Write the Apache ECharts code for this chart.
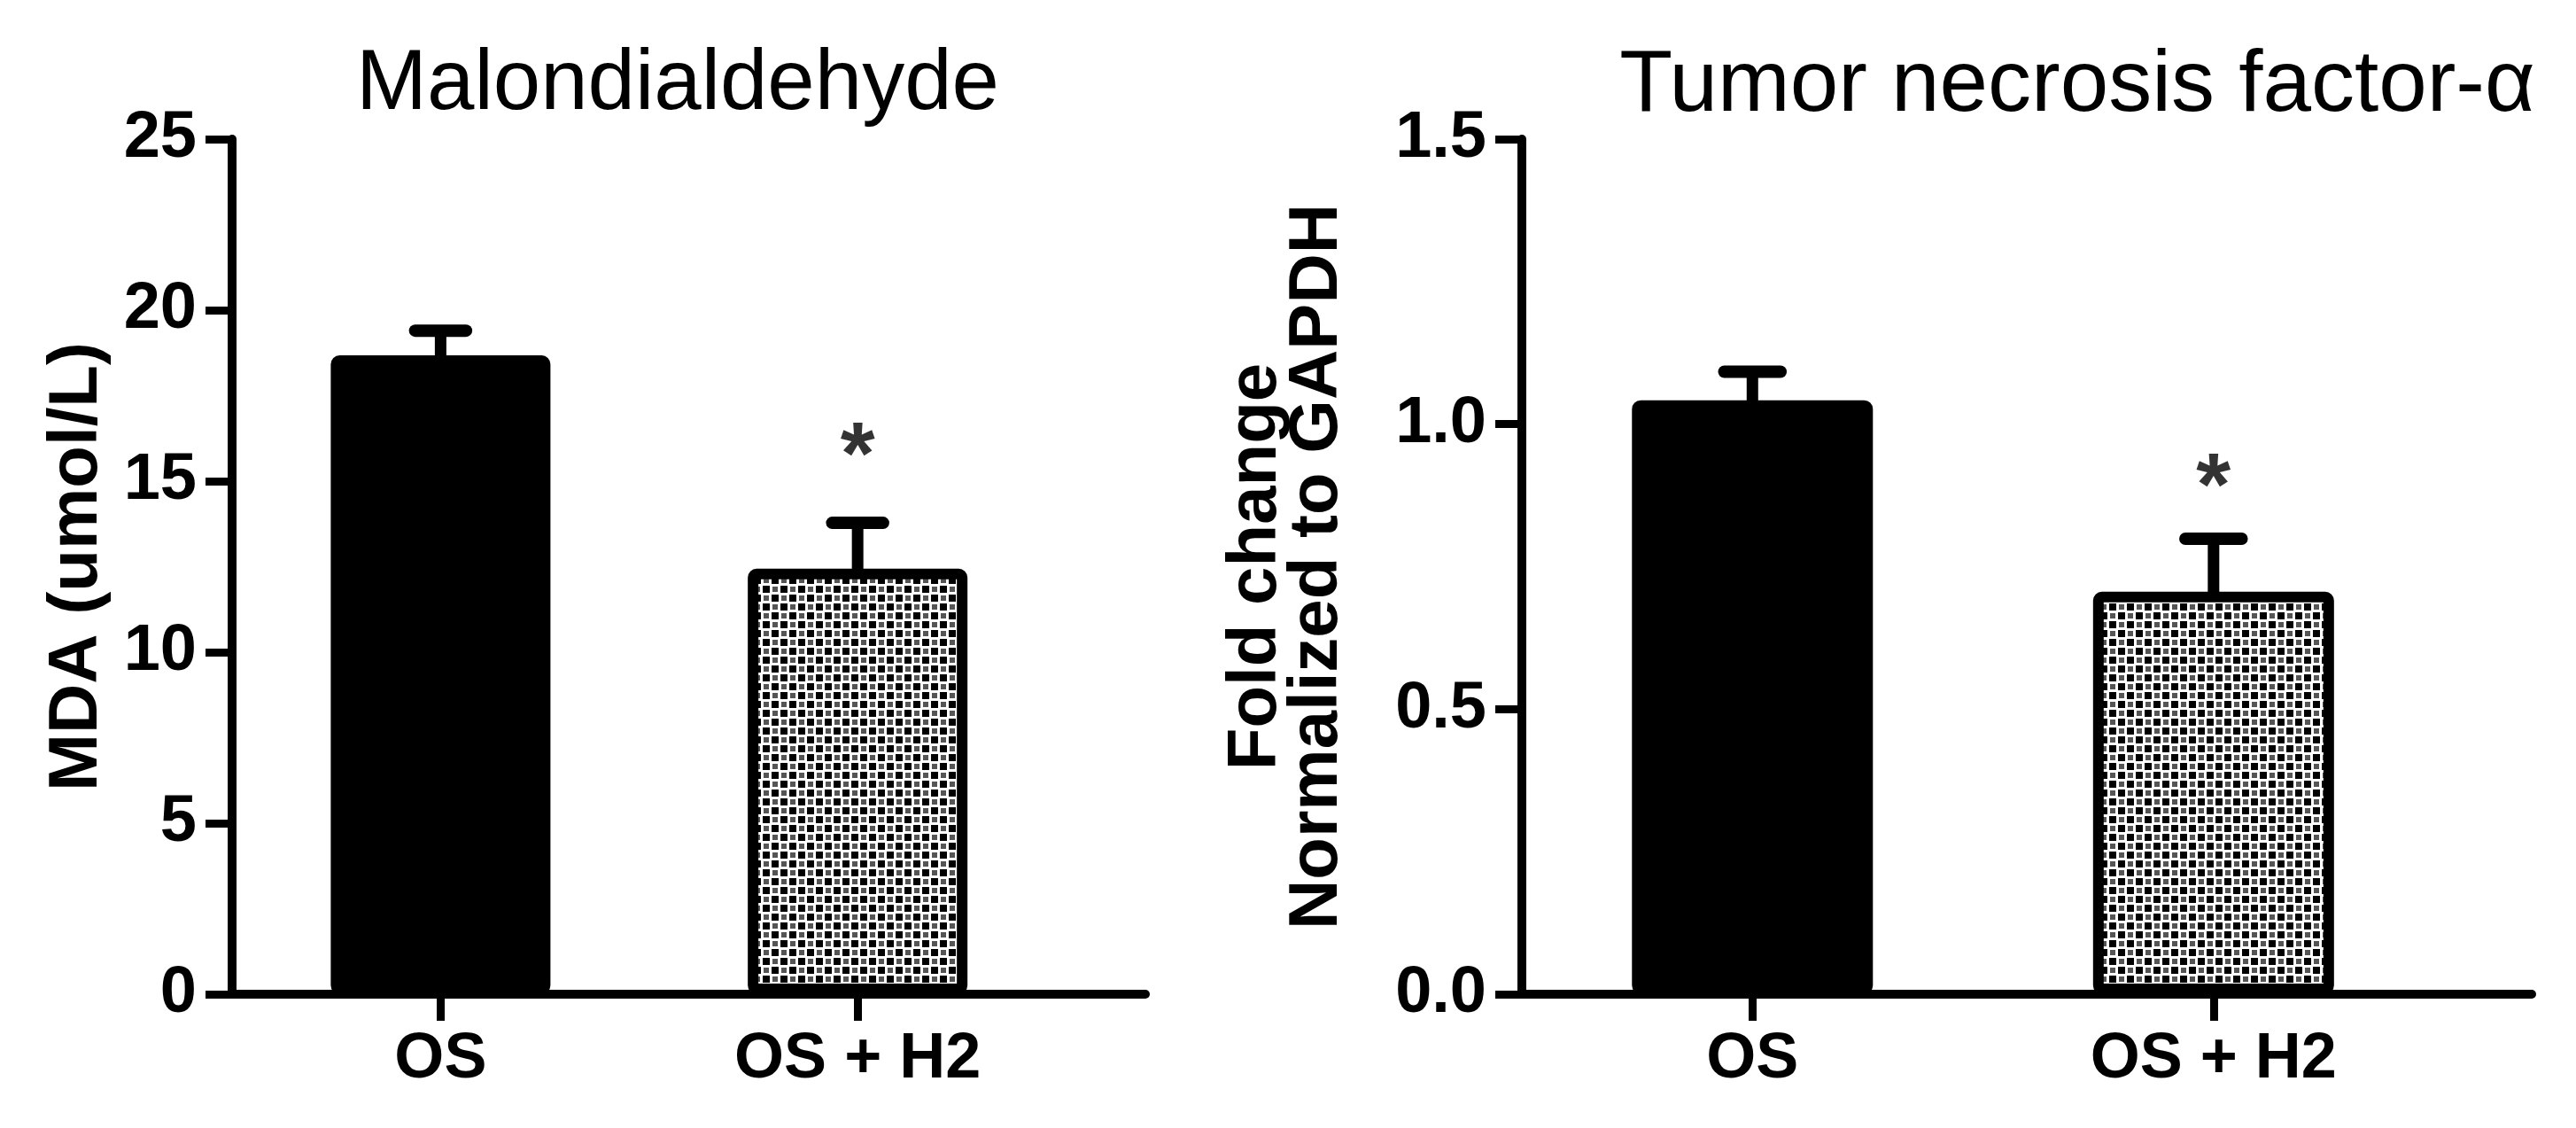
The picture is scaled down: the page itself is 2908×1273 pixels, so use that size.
<!DOCTYPE html>
<html>
<head>
<meta charset="utf-8">
<script src="https://cdn.jsdelivr.net/npm/echarts@6/dist/echarts.min.js"></script>
<style>
html,body{margin:0;padding:0;background:#fff;}
#chart{width:2908px;height:1273px;}
</style>
</head>
<body>
<div id="chart"></div>
<script>
// ---- data ----
const categories = ['OS', 'OS + H2'];
const mdaMean = [18.68, 12.44];
const mdaSem = [0.72, 1.34];
const mdaSigMark = ['', '*'];
const mdaSigY = [0, 15.63];
const tnfMean = [1.042, 0.706];
const tnfSem = [0.050, 0.093];
const tnfSigMark = ['', '*'];
const tnfSigY = [0, 0.884];
const mdaAxis = { min: 0, max: 25, interval: 5 };
const tnfAxis = { min: 0, max: 1.5, interval: 0.5 };
const titles = ['Malondialdehyde', 'Tumor necrosis factor-\u03b1'];
const yNames = ['MDA (umol/L)', 'Fold change\nNormalized to GAPDH'];

// ---- styles ----
const SANS = "'Liberation Sans', Arial, sans-serif";

function makePattern() {
  const c = document.createElement('canvas');
  c.width = 20; c.height = 20;
  const g = c.getContext('2d');
  g.fillStyle = '#fff'; g.fillRect(0, 0, 20, 20);
  g.fillStyle = '#000';
  g.fillRect(1, 1, 8, 8);
  g.fillRect(11, 11, 8, 8);
  g.fillStyle = '#555';
  g.fillRect(12, 2, 6, 6);
  g.fillRect(2, 12, 6, 6);
  return c;
}
const pattern = { image: makePattern(), repeat: 'repeat' };

const grids = [
  { left: 262, right: 2908 - 1293, top: 157, bottom: 1273 - 1122 },
  { left: 1718, right: 50, top: 157, bottom: 1273 - 1122 }
];

function xAxisFor(i) {
  return {
    type: 'value', gridIndex: i, min: -0.5, max: 1.69,
    splitLine: { show: false },
    axisLine: { show: true, onZero: true, lineStyle: { color: '#000', width: 10 } },
    axisTick: { show: true, customValues: [0, 1], length: 30, lineStyle: { color: '#000', width: 9 } },
    axisLabel: {
      show: true, customValues: [0, 1], margin: 38,
      formatter: v => categories[Math.round(v)],
      color: '#000', fontFamily: SANS, fontWeight: 'bold', fontSize: 72
    }
  };
}
function yAxisFor(i, ax, name, gap, fmt) {
  return {
    type: 'value', gridIndex: i, min: ax.min, max: ax.max, interval: ax.interval,
    name: name, nameLocation: 'middle', nameRotate: 90, nameGap: gap,
    nameTextStyle: { color: '#000', fontFamily: SANS, fontWeight: 'bold', fontSize: 78, lineHeight: 69 },
    splitLine: { show: false },
    axisLine: { show: true, onZero: false, lineStyle: { color: '#000', width: 10 } },
    axisTick: { show: true, length: 30, lineStyle: { color: '#000', width: 9 } },
    axisLabel: {
      show: true, margin: 40, formatter: fmt,
      color: '#000', fontFamily: SANS, fontWeight: 'bold', fontSize: 74
    }
  };
}

function barData(means) {
  return means.map((m, i) => ({
    value: [i, m],
    itemStyle: i === 0
      ? { color: '#000', borderColor: '#000', borderWidth: 12, borderRadius: 4 }
      : { color: pattern, borderColor: '#000', borderWidth: 12, borderRadius: 4 }
  }));
}
function errData(means, sems) {
  return means.map((m, i) => [i, m, sems[i]]);
}
function sigData(marks, ys) {
  return marks.map((s, i) => ({ value: [i, ys[i]], mark: s })).filter(d => d.mark);
}
function renderErr(params, api) {
  const x = api.value(0), m = api.value(1), s = api.value(2);
  const top = api.coord([x, m + s]);
  const base = api.coord([x, m]);
  const hw = api.size([1, 0])[0] * 0.061;
  return {
    type: 'group',
    children: [
      { type: 'line', shape: { x1: top[0], y1: base[1] + 4, x2: top[0], y2: top[1] },
        style: { stroke: '#000', lineWidth: 13 } },
      { type: 'line', shape: { x1: top[0] - hw, y1: top[1], x2: top[0] + hw, y2: top[1] },
        style: { stroke: '#000', lineWidth: 14, lineCap: 'round' } }
    ]
  };
}

function seriesFor(i, means, sems, marks, ys, bw) {
  return [
    { type: 'bar', xAxisIndex: i, yAxisIndex: i, barWidth: bw, data: barData(means), z: 2, animation: false },
    { type: 'custom', xAxisIndex: i, yAxisIndex: i, renderItem: renderErr, data: errData(means, sems), z: 3, animation: false },
    { type: 'scatter', xAxisIndex: i, yAxisIndex: i, symbolSize: 1, itemStyle: { color: 'rgba(0,0,0,0)' },
      data: sigData(marks, ys), z: 4, animation: false,
      label: { show: true, position: 'inside', formatter: '*', color: '#000',
        fontFamily: SANS, fontWeight: 'bold', fontSize: 100 } }
  ];
}

const chart = echarts.init(document.getElementById('chart'), null, { renderer: 'canvas' });
chart.setOption({
  backgroundColor: '#fff',
  animation: false,
  title: [
    { text: titles[0], left: 760, top: 44, textAlign: 'center',
      textStyle: { color: '#000', fontFamily: SANS, fontWeight: 'normal', fontSize: 96 } },
    { text: titles[1], left: 2340, top: 44, textAlign: 'center',
      textStyle: { color: '#000', fontFamily: SANS, fontWeight: 'normal', fontSize: 98 } }
  ],
  grid: grids,
  xAxis: [xAxisFor(0), xAxisFor(1)],
  yAxis: [
    yAxisFor(0, mdaAxis, yNames[0], 140, v => String(v)),
    yAxisFor(1, tnfAxis, yNames[1], 196, v => v.toFixed(1))
  ],
  series: [
    ...seriesFor(0, mdaMean, mdaSem, mdaSigMark, mdaSigY, 248),
    ...seriesFor(1, tnfMean, tnfSem, tnfSigMark, tnfSigY, 272)
  ]
});
</script>
</body>
</html>
